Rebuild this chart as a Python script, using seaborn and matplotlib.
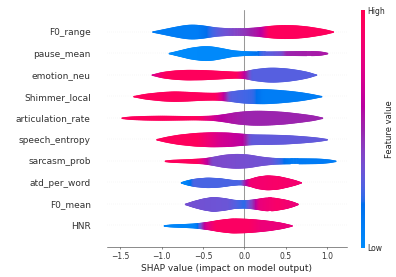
"""SHAP violin summary plot (feature value coloured) recreated with matplotlib + seaborn."""
import numpy as np
import matplotlib
matplotlib.use("Agg")
import matplotlib.pyplot as plt
import seaborn as sns

# features, top to bottom
features = ["F0_range", "pause_mean", "emotion_neu", "Shimmer_local",
            "articulation_rate", "speech_entropy", "sarcasm_prob",
            "atd_per_word", "F0_mean", "HNR"]

# violin outlines: (SHAP value, half width in row units)
# colours: (SHAP value, feature value 0 = low .. 1 = high)
f0_range_shape = [(-1.13, 0), (-1.0, 0.1), (-0.85, 0.22), (-0.72, 0.31), (-0.62, 0.333),
                  (-0.5, 0.29), (-0.35, 0.2), (-0.2, 0.16), (0.0, 0.16), (0.15, 0.2),
                  (0.3, 0.27), (0.45, 0.31), (0.6, 0.3), (0.75, 0.25), (0.9, 0.16),
                  (1.0, 0.09), (1.08, 0)]
f0_range_color = [(-1.13, 0.1), (-0.57, 0.1), (-0.3, 0.3), (0.0, 0.45), (0.2, 0.6),
                  (0.3, 0.95), (1.08, 0.95)]

pause_mean_shape = [(-0.93, 0), (-0.8, 0.12), (-0.65, 0.26), (-0.5, 0.333), (-0.4, 0.32),
                    (-0.28, 0.24), (-0.15, 0.14), (-0.03, 0.1), (0.1, 0.08), (0.3, 0.08),
                    (0.5, 0.09), (0.7, 0.1), (0.85, 0.1), (0.95, 0.07), (1.01, 0)]
pause_mean_color = [(-0.93, 0.0), (0.0, 0.02), (0.23, 0.25), (0.45, 0.35), (0.5, 0.5),
                    (1.01, 0.55)]

emotion_neu_shape = [(-1.13, 0), (-1.0, 0.13), (-0.85, 0.2), (-0.7, 0.23), (-0.5, 0.22),
                     (-0.3, 0.18), (-0.1, 0.14), (0.0, 0.16), (0.1, 0.25), (0.25, 0.32),
                     (0.35, 0.333), (0.5, 0.3), (0.65, 0.22), (0.78, 0.12), (0.87, 0)]
emotion_neu_color = [(-1.13, 0.7), (-0.95, 0.95), (-0.1, 0.95), (0.0, 0.6), (0.08, 0.27),
                     (0.87, 0.27)]

shimmer_local_shape = [(-1.36, 0), (-1.2, 0.12), (-1.0, 0.2), (-0.85, 0.23), (-0.7, 0.21),
                       (-0.5, 0.17), (-0.35, 0.16), (-0.2, 0.21), (-0.05, 0.29), (0.1, 0.325),
                       (0.25, 0.333), (0.4, 0.3), (0.55, 0.25), (0.7, 0.18), (0.85, 0.08),
                       (0.94, 0)]
shimmer_local_color = [(-1.36, 0.95), (-0.35, 0.95), (-0.25, 0.6), (-0.18, 0.27),
                       (0.1, 0.22), (0.22, 0.1), (0.94, 0.1)]

articulation_rate_shape = [(-1.52, 0), (-1.4, 0.06), (-1.2, 0.09), (-1.0, 0.1), (-0.8, 0.09),
                           (-0.6, 0.08), (-0.4, 0.1), (-0.25, 0.17), (-0.1, 0.27), (0.05, 0.32),
                           (0.15, 0.333), (0.3, 0.32), (0.5, 0.27), (0.7, 0.18), (0.85, 0.1),
                           (0.95, 0)]
articulation_rate_color = [(-1.52, 0.95), (-0.58, 0.95), (-0.3, 0.6), (0.0, 0.5), (0.95, 0.5)]

speech_entropy_shape = [(-1.08, 0), (-0.95, 0.12), (-0.8, 0.22), (-0.6, 0.3), (-0.4, 0.333),
                        (-0.2, 0.32), (-0.05, 0.27), (0.1, 0.23), (0.3, 0.22), (0.5, 0.2),
                        (0.7, 0.15), (0.85, 0.1), (0.95, 0.05), (1.02, 0)]
speech_entropy_color = [(-1.08, 0.95), (-0.58, 0.95), (-0.3, 0.7), (-0.02, 0.6), (0.07, 0.3),
                        (1.02, 0.3)]

sarcasm_prob_shape = [(-1.0, 0), (-0.9, 0.05), (-0.7, 0.08), (-0.5, 0.12), (-0.4, 0.18),
                      (-0.25, 0.29), (-0.1, 0.333), (0.05, 0.3), (0.2, 0.2), (0.35, 0.14),
                      (0.5, 0.12), (0.7, 0.12), (0.9, 0.11), (1.05, 0.06), (1.11, 0)]
sarcasm_prob_color = [(-1.0, 0.95), (-0.58, 0.95), (-0.45, 0.6), (-0.4, 0.38), (0.3, 0.33),
                      (0.55, 0.12), (1.11, 0.1)]

atd_per_word_shape = [(-0.78, 0), (-0.7, 0.1), (-0.6, 0.18), (-0.45, 0.23), (-0.3, 0.2),
                      (-0.15, 0.12), (-0.05, 0.09), (0.05, 0.15), (0.15, 0.27), (0.27, 0.333),
                      (0.4, 0.3), (0.52, 0.2), (0.62, 0.1), (0.69, 0)]
atd_per_word_color = [(-0.78, 0.03), (-0.7, 0.05), (-0.62, 0.25), (-0.05, 0.25), (0.07, 0.85),
                      (0.4, 0.9), (0.69, 0.85)]

f0_mean_shape = [(-0.73, 0), (-0.62, 0.14), (-0.5, 0.26), (-0.38, 0.333), (-0.25, 0.28),
                 (-0.12, 0.19), (0.0, 0.17), (0.12, 0.22), (0.25, 0.3), (0.35, 0.3),
                 (0.5, 0.2), (0.6, 0.09), (0.65, 0)]
f0_mean_color = [(-0.73, 0.35), (-0.2, 0.32), (0.0, 0.2), (0.1, 0.45), (0.18, 0.8),
                 (0.4, 0.9), (0.65, 0.8)]

hnr_shape = [(-1.02, 0), (-0.9, 0.05), (-0.75, 0.07), (-0.6, 0.1), (-0.45, 0.17),
             (-0.3, 0.27), (-0.15, 0.333), (0.0, 0.32), (0.15, 0.28), (0.3, 0.22),
             (0.45, 0.13), (0.59, 0)]
hnr_color = [(-1.02, 0.03), (-0.6, 0.05), (-0.54, 0.28), (-0.47, 0.7), (-0.35, 0.92),
             (0.05, 0.92), (0.2, 0.82), (0.59, 0.8)]

shapes = [f0_range_shape, pause_mean_shape, emotion_neu_shape, shimmer_local_shape,
          articulation_rate_shape, speech_entropy_shape, sarcasm_prob_shape,
          atd_per_word_shape, f0_mean_shape, hnr_shape]
color_profiles = [f0_range_color, pause_mean_color, emotion_neu_color, shimmer_local_color,
                  articulation_rate_color, speech_entropy_color, sarcasm_prob_color,
                  atd_per_word_color, f0_mean_color, hnr_color]

xticks = [-1.5, -1.0, -0.5, 0.0, 0.5, 1.0]


def lch_to_rgb(l, c, h):
    """CIE LCh -> sRGB (D65), same path shap uses for its red_blue map."""
    a, b = c * np.cos(h), c * np.sin(h)
    fy = (l + 16) / 116
    fx, fz = fy + a / 500, fy - b / 200
    finv = lambda t: t ** 3 if t > 6 / 29 else 3 * (6 / 29) ** 2 * (t - 4 / 29)
    xyz = np.array([0.95047 * finv(fx), finv(fy), 1.08883 * finv(fz)])
    m = np.array([[3.2406, -1.5372, -0.4986],
                  [-0.9689, 1.8758, 0.0415],
                  [0.0557, -0.2040, 1.0570]])
    rgb = m @ xyz
    rgb = np.where(rgb > 0.0031308, 1.055 * np.abs(rgb) ** (1 / 2.4) - 0.055, 12.92 * rgb)
    return tuple(np.clip(rgb, 0, 1))


def red_blue_cmap():
    n = 100
    ls = list(np.linspace(54, 40, n // 2)) + list(np.linspace(40, 54, n // 2))
    cs = np.linspace(70, 90, n)
    hs = np.linspace(4.6588, 0.35470565 + 2 * np.pi, n)
    cols = [lch_to_rgb(l, c, h) for l, c, h in zip(ls, cs, hs)]
    return sns.blend_palette(cols, n_colors=256, as_cmap=True)


def draw_violin(ax, pos, shape, profile, cmap):
    sx, sw = np.array(shape, dtype=float).T
    cx, cv = np.array(profile, dtype=float).T
    xs = np.linspace(sx[0], sx[-1], 300)
    ds = np.interp(xs, sx, sw)
    ds = np.convolve(np.pad(ds, 7, mode="edge"), np.ones(15) / 15, mode="valid")
    vs = np.interp(xs, cx, cv)
    vs = np.convolve(np.pad(vs, 3, mode="edge"), np.ones(7) / 7, mode="valid")
    for i in range(len(xs) - 1):
        if ds[i] > 0.02 or ds[i + 1] > 0.02:
            ax.fill_between(xs[i:i + 2], pos - ds[i:i + 2], pos + ds[i:i + 2],
                            color=cmap(vs[i]), zorder=2)


def main():
    sns.set_style("white")
    plt.rcParams["font.family"] = ["DejaVu Sans"]
    cmap = red_blue_cmap()
    axis_color = "#333333"

    fig = plt.figure(figsize=(7.92, 5.54), dpi=50)
    ax = fig.add_axes([0.2702, 0.1083, 0.606, 0.8556])
    n = len(features)
    for i, (name, shape, prof) in enumerate(zip(features, shapes, color_profiles)):
        pos = n - 1 - i
        ax.axhline(y=pos, color="#cccccc", lw=0.5, dashes=(1, 5), zorder=-1)
        draw_violin(ax, pos, shape, prof, cmap)
    ax.axvline(x=0, color="#999999", zorder=-1)

    ax.set_xlim(-1.66, 1.24)
    ax.set_ylim(-1, n)
    ax.set_yticks(range(n))
    ax.set_yticklabels(features[::-1], fontsize=13)
    ax.set_xticks(xticks)
    ax.set_xticklabels([f"{t:.1f}".replace("-", "\u2212") for t in xticks])
    ax.yaxis.set_ticks_position("none")
    ax.xaxis.set_ticks_position("bottom")
    ax.tick_params(color=axis_color, labelcolor=axis_color)
    ax.tick_params("y", length=20, width=0.5, which="major")
    ax.tick_params("x", labelsize=11)
    sns.despine(ax=ax, left=True)
    ax.spines["bottom"].set_color(axis_color)
    ax.set_xlabel("SHAP value (impact on model output)", fontsize=13)

    cax = fig.add_axes([0.9116, 0.1047, 0.0101, 0.859])
    sm = plt.cm.ScalarMappable(cmap=cmap, norm=plt.Normalize(0, 1))
    cb = fig.colorbar(sm, cax=cax, ticks=[0, 1])
    cb.set_ticklabels(["Low", "High"])
    cb.set_label("Feature value", size=12, labelpad=0)
    cb.ax.tick_params(labelsize=11, length=0)
    cb.outline.set_visible(False)

    fig.savefig("out.png", dpi=50)
    plt.close(fig)


if __name__ == "__main__":
    main()
